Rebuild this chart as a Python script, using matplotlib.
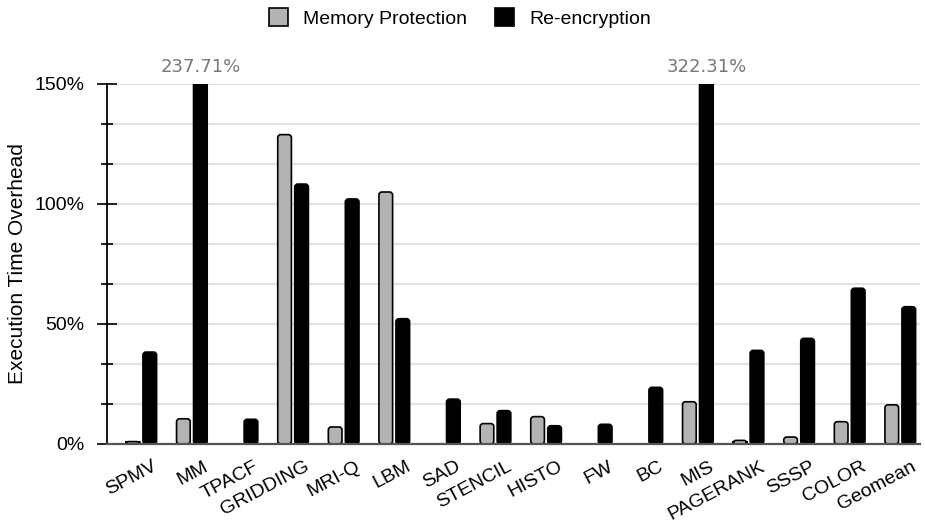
import matplotlib
matplotlib.use("Agg")
import matplotlib.pyplot as plt
import matplotlib.transforms as mtransforms
from matplotlib.patches import FancyBboxPatch, Patch
import numpy as np

categories = ["SPMV", "MM", "TPACF", "GRIDDING", "MRI-Q", "LBM", "SAD", "STENCIL",
              "HISTO", "FW", "BC", "MIS", "PAGERANK", "SSSP", "COLOR", "Geomean"]
mem_protection = [1.0, 10.5, 0.0, 128.9, 7.1, 105.0, 0.0, 8.5,
                  11.4, 0.0, 0.0, 17.6, 1.5, 2.9, 9.3, 16.3]
re_encryption = [38.3, 237.71, 10.3, 108.3, 102.1, 52.2, 18.7, 13.9,
                 7.6, 8.2, 23.6, 322.31, 39.0, 44.0, 64.9, 57.2]
series_names = ["Memory Protection", "Re-encryption"]
yticks = [0, 50, 100, 150]
ytick_labels = ["0%", "50%", "100%", "150%"]
ymax = 150

FONT = "Liberation Sans"
GRAY = "#b3b3b3"

fig = plt.figure(figsize=(9.25, 5.25), dpi=100)
ax = fig.add_axes([0.1153, 0.1543, 0.9946 - 0.1153, 0.84 - 0.1543])
ax.set_xlim(-0.684, 15.39)
ax.set_ylim(0, ymax)

x = np.arange(len(categories))
bw = 0.27
off = 0.168
# pixel per data unit, for rounded corners
fig.canvas.draw()
p0 = ax.transData.transform((0, 0))
p1 = ax.transData.transform((1, 1))
aspect = (p1[0] - p0[0]) / (p1[1] - p0[1])
rs = 0.06

for i in range(len(categories)):
    for val, dx, fc in ((mem_protection[i], -off, GRAY), (re_encryption[i], off, "black")):
        if val <= 0:
            continue
        patch = FancyBboxPatch((x[i] + dx - bw / 2, 0), bw, val,
                               boxstyle=f"round,pad=0,rounding_size={rs}",
                               mutation_aspect=aspect,
                               facecolor=fc, edgecolor="black", linewidth=1.2,
                               zorder=2, clip_on=True)
        ax.add_patch(patch)
        if val > ymax:
            ax.text(x[i] + dx, ymax + 3.5, f"{val:.2f}%", ha="center", va="bottom",
                    fontsize=13, color="#777777", family="DejaVu Sans")

# grid
ax.set_yticks(yticks)
ax.set_yticklabels(ytick_labels, fontsize=14, family=FONT)
ax.set_yticks(np.arange(0, ymax + 0.1, 50 / 3), minor=True)
ax.yaxis.grid(True, which="both", color="#e2e2e2", linewidth=1.5, zorder=0)
ax.set_axisbelow(True)
ax.tick_params(axis="y", which="major", direction="inout", length=14, width=1.2, pad=9)
ax.tick_params(axis="y", which="minor", direction="inout", length=8.5, width=1.2)

for s in ("top", "right"):
    ax.spines[s].set_visible(False)
ax.spines["left"].set_linewidth(1.3)
ax.spines["bottom"].set_color("#555555")
ax.spines["bottom"].set_linewidth(1.6)
ax.spines["bottom"].set_zorder(3)

ax.set_xticks(x)
ax.set_xticklabels(categories, rotation=28, ha="right", rotation_mode="anchor",
                   fontsize=14, family=FONT)
ax.tick_params(axis="x", length=0, pad=10)
shift = mtransforms.ScaledTranslation(11 / 100, 0, fig.dpi_scale_trans)
for lab in ax.get_xticklabels():
    lab.set_transform(lab.get_transform() + shift)

ax.set_ylabel("Execution Time Overhead", fontsize=15, family=FONT, labelpad=5)

handles = [Patch(facecolor=GRAY, edgecolor="black", linewidth=1.2),
           Patch(facecolor="black", edgecolor="black", linewidth=1.2)]
fig.legend(handles, series_names, loc="center", bbox_to_anchor=(0.497, 1 - 18 / 525),
           ncol=2, frameon=False, prop={"family": FONT, "size": 14},
           handlelength=1.0, handleheight=1.0, handletextpad=0.75, columnspacing=1.45)

fig.savefig("out.png", dpi=100)
